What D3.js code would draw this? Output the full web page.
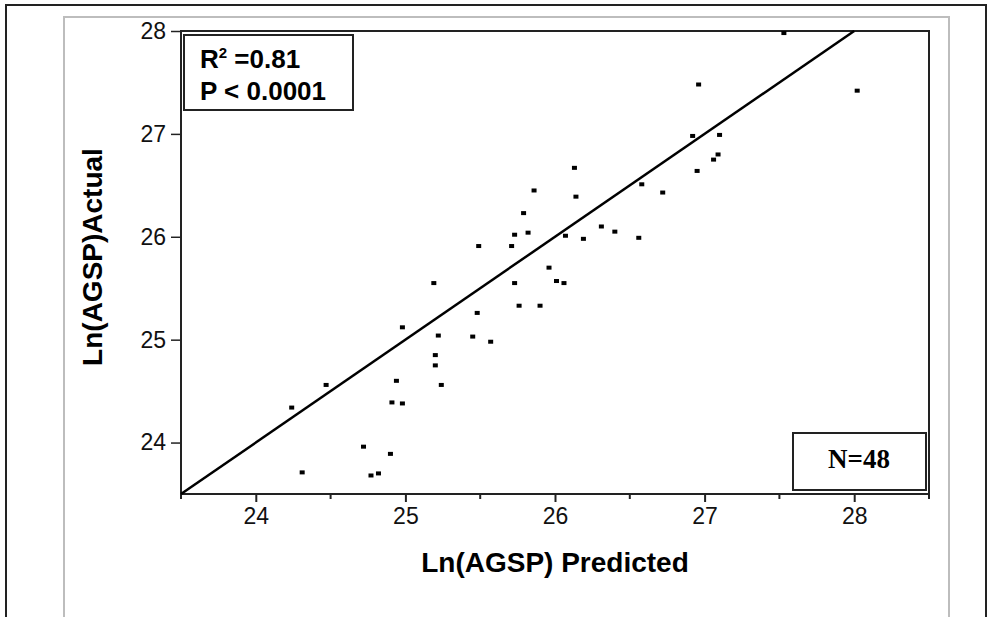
<!DOCTYPE html>
<html><head>
<meta charset="utf-8">
<script src="https://d3js.org/d3.v7.min.js"></script>
<style>
  body { margin: 0; background: #fff; }
  svg text { font-family: Arial, "Liberation Sans", sans-serif; }
</style>
</head>
<body>
<svg id="chart" width="987" height="617"></svg>
<script>
// values: Ln(AGSP) predicted (x) vs actual (y)
let predicted = [27.53, 26.96, 28.02, 26.92, 27.10, 27.09, 27.06, 26.95, 26.72, 26.13,
                 25.86, 26.14, 26.58, 25.79, 25.73, 25.82, 25.49, 25.71, 26.07, 26.19,
                 26.31, 26.40, 26.56, 25.96, 25.19, 25.73, 26.01, 26.06, 25.76, 25.90,
                 25.48, 24.98, 25.22, 25.45, 25.57, 25.20, 25.20, 24.94, 25.24, 24.91,
                 24.98, 24.72, 24.90, 24.77, 24.82, 24.24, 24.31, 24.47];
let actual    = [27.98, 27.48, 27.42, 26.98, 26.99, 26.80, 26.75, 26.64, 26.43, 26.67,
                 26.45, 26.39, 26.51, 26.23, 26.02, 26.04, 25.91, 25.91, 26.01, 25.98,
                 26.10, 26.05, 25.99, 25.70, 25.55, 25.55, 25.57, 25.55, 25.33, 25.33,
                 25.26, 25.12, 25.04, 25.03, 24.98, 24.85, 24.75, 24.60, 24.56, 24.39,
                 24.38, 23.96, 23.89, 23.68, 23.70, 24.34, 23.71, 24.56];
let fitLine = [[23.5, 23.5], [28, 28]];
let xTicks = [24, 25, 26, 27, 28];
let xMinorTicks = [23.5, 24.5, 25.5, 26.5, 27.5, 28.5];
let yTicks = [24, 25, 26, 27, 28];

let svg = d3.select("#chart");

// outer frames
svg.append("path").attr("d", "M6,617 V5 H986 V617")
  .attr("fill", "none").attr("stroke", "#222").attr("stroke-width", 2);
svg.append("path").attr("d", "M64,617 V17 H949 V617")
  .attr("fill", "none").attr("stroke", "#bdbdbd").attr("stroke-width", 2);

let pLeft = 181, pTop = 31, pRight = 929, pBottom = 494;
let x = d3.scaleLinear().domain([23.5, 28.5]).range([pLeft, pRight]);
let y = d3.scaleLinear().domain([23.5, 28]).range([pBottom, pTop]);

// x axis: major + minor ticks
let xAxis = svg.append("g").attr("transform", `translate(0,${pBottom})`);
xAxis.call(d3.axisBottom(x).tickValues(xTicks).tickSize(8).tickPadding(6).tickFormat(d3.format("d")));
xAxis.selectAll("text").attr("font-size", 23).attr("fill", "#111").attr("font-family", "Arial, 'Liberation Sans', sans-serif");
xAxis.select(".domain").remove();
xAxis.selectAll("line").attr("stroke", "#222").attr("stroke-width", 2);
xAxis.selectAll(".minor").data(xMinorTicks).enter().append("line")
  .attr("x1", d => x(d)).attr("x2", d => x(d))
  .attr("y1", 0).attr("y2", 5)
  .attr("stroke", "#222").attr("stroke-width", 2);

// y axis
let yAxis = svg.append("g").attr("transform", `translate(${pLeft},0)`);
yAxis.call(d3.axisLeft(y).tickValues(yTicks).tickSize(10).tickPadding(5).tickFormat(d3.format("d")));
yAxis.selectAll("text").attr("font-size", 23).attr("fill", "#111").attr("font-family", "Arial, 'Liberation Sans', sans-serif");
yAxis.select(".domain").remove();
yAxis.selectAll("line").attr("stroke", "#222").attr("stroke-width", 1.5);

// plot frame
svg.append("rect").attr("x", pLeft).attr("y", pTop)
  .attr("width", pRight - pLeft).attr("height", pBottom - pTop)
  .attr("fill", "none").attr("stroke", "#222").attr("stroke-width", 2);

// fitted line
svg.append("line")
  .attr("x1", x(fitLine[0][0])).attr("y1", y(fitLine[0][1]))
  .attr("x2", x(fitLine[1][0])).attr("y2", y(fitLine[1][1]))
  .attr("stroke", "#000").attr("stroke-width", 2.5);

// points
predicted.forEach(function(d, i) {
  svg.append("rect")
    .attr("x", x(d) - 2.5).attr("y", y(actual[i]) - 2)
    .attr("width", 5).attr("height", 4)
    .attr("fill", "#000");
});

// stats box
svg.append("rect").attr("x", 184).attr("y", 35).attr("width", 169).attr("height", 75)
  .attr("fill", "#fff").attr("stroke", "#222").attr("stroke-width", 2);
let r2 = svg.append("text").attr("x", 200).attr("y", 68)
  .attr("font-size", 26).attr("font-weight", "bold").attr("fill", "#000");
r2.append("tspan").text("R");
r2.append("tspan").text("2").attr("font-size", 15).attr("dy", -10);
r2.append("tspan").text(" =0.81").attr("dy", 10);
svg.append("text").attr("x", 200).attr("y", 100)
  .attr("font-size", 26).attr("font-weight", "bold").attr("fill", "#000")
  .text("P < 0.0001");

// N box
svg.append("rect").attr("x", 793).attr("y", 433).attr("width", 133).attr("height", 57)
  .attr("fill", "#fff").attr("stroke", "#222").attr("stroke-width", 2);
svg.append("text").attr("x", 859).attr("y", 468).attr("text-anchor", "middle")
  .style("font-family", "'Liberation Serif', 'DejaVu Serif', serif")
  .attr("font-size", 27).attr("font-weight", "bold").attr("fill", "#000")
  .text("N=48");

// axis titles
svg.append("text").attr("x", (pLeft + pRight) / 2).attr("y", 572).attr("text-anchor", "middle")
  .attr("font-size", 28).attr("font-weight", "bold").attr("fill", "#000")
  .text("Ln(AGSP) Predicted");
svg.append("text").attr("transform", "translate(102,257) rotate(-90)").attr("text-anchor", "middle")
  .attr("font-size", 28).attr("font-weight", "bold").attr("fill", "#000")
  .text("Ln(AGSP)Actual");
</script>
</body>
</html>
